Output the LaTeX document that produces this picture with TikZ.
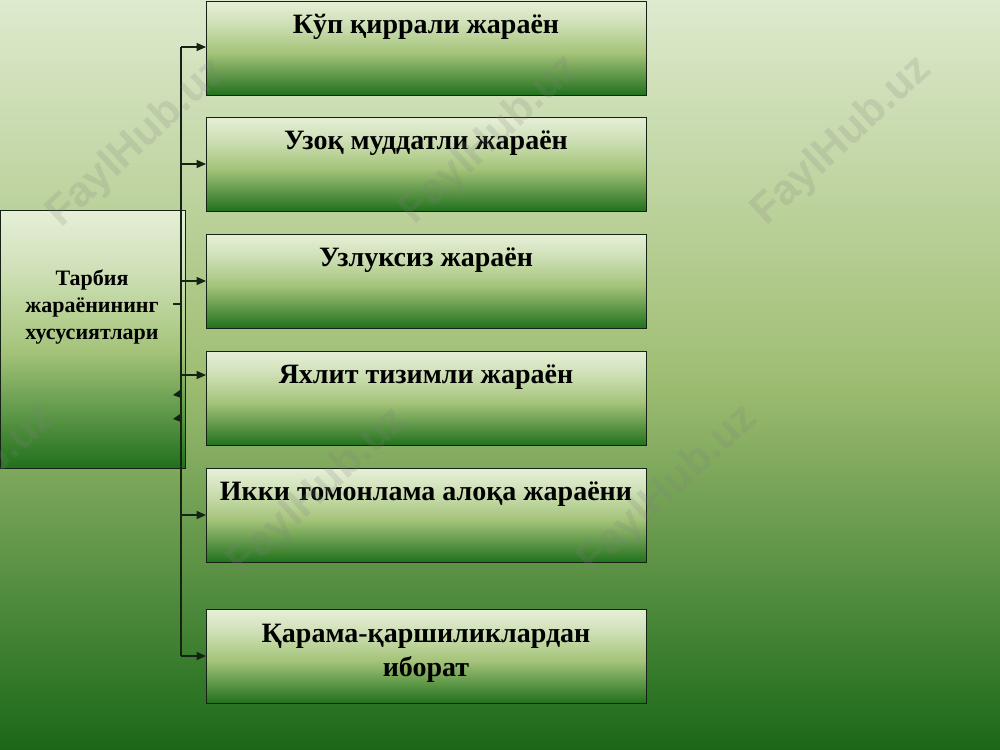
\documentclass[tikz,border=0pt]{standalone}
\usepackage{fontspec}
\setmainfont{Liberation Serif}
\newfontfamily\wmfont{Liberation Sans}
\usetikzlibrary{arrows.meta}
\definecolor{bgtop}{RGB}{222,234,206}
\definecolor{bgmid}{RGB}{160,190,115}
\definecolor{bgbot}{RGB}{26,104,24}
\definecolor{bxtop}{RGB}{230,239,215}
\definecolor{bxhi}{RGB}{208,225,185}
\definecolor{bxmid}{RGB}{165,196,122}
\definecolor{bxbot}{RGB}{32,112,28}
\definecolor{linec}{RGB}{20,35,20}
\definecolor{wmc}{RGB}{128,128,128}
\pgfdeclareverticalshading{bgshade}{100bp}{color(0bp)=(bgbot); color(25bp)=(bgbot); color(50bp)=(bgmid); color(75bp)=(bgtop); color(100bp)=(bgtop)}
\pgfdeclareverticalshading{boxshade}{100bp}{color(0bp)=(bxbot); color(25bp)=(bxbot); color(48bp)=(bxmid); color(64bp)=(bxhi); color(75bp)=(bxtop); color(100bp)=(bxtop)}
\begin{document}
\begin{tikzpicture}[x=0.75pt,y=-0.75pt,
  rbox/.style={draw=linec, line width=0.9pt, shading=boxshade, minimum width=330pt, minimum height=70.5pt, inner sep=0pt, anchor=north west},
  lbox/.style={draw=linec, line width=0.9pt, shading=boxshade, minimum width=138.75pt, minimum height=193.5pt, inner sep=0pt, anchor=north west},
  rtext/.style={font=\bfseries\fontsize{21}{25.5}\selectfont, align=center, inner sep=0pt, text=black},
  ltext/.style={font=\bfseries\fontsize{16.5}{20}\selectfont, align=center, inner sep=0pt, text=black},
  conn/.style={draw=linec, line width=0.9pt},
  arr/.style={conn, -{Triangle[length=7pt,width=6pt]}},
  wm/.style={font=\wmfont\bfseries\fontsize{32}{36}\selectfont, text=wmc, text opacity=0.19, rotate=43, inner sep=0pt}
]
\useasboundingbox (0,0) rectangle (1000,750);
\clip (0,0) rectangle (1000,750);
\shade[shading=bgshade] (0,0) rectangle (1000,750);

% left box
\node[lbox] (L) at (0,210) {};
\node[ltext] (Lt) at (92,307) {Тарбия\\жараёнининг\\хусусиятлари};

% right boxes
\node[rbox] (b1) at (206,1) {};
\node[rbox] (b2) at (206,117) {};
\node[rbox] (b3) at (206,234) {};
\node[rbox] (b4) at (206,351) {};
\node[rbox] (b5) at (206,468) {};
\node[rbox] (b6) at (206,609) {};

\node[rtext, anchor=base] (t1) at (426,33) {Кўп қиррали жараён};
\node[rtext, anchor=base] (t2) at (426,149) {Узоқ муддатли жараён};
\node[rtext, anchor=base] (t3) at (426,266) {Узлуксиз жараён};
\node[rtext, anchor=base] (t4) at (426,383) {Яхлит тизимли жараён};
\node[rtext, anchor=base] (t5) at (426,500) {Икки томонлама алоқа жараёни};
\node[rtext] (t6) at (426,653) {Қарама-қаршиликлардан\\иборат};

% connector spine
\coordinate (j1) at (181,47);
\coordinate (j2) at (181,164);
\coordinate (j3) at (181,281);
\coordinate (j4) at (181,375);
\coordinate (j5) at (181,515);
\coordinate (j6) at (181,656);
\coordinate (tk) at (173,304);
\coordinate (tk2) at (181,304);
\draw[conn] (j1) -- (j6);
\draw[arr] (j1) -- (j1 -| b1.west);
\draw[arr] (j2) -- (j2 -| b2.west);
\draw[arr] (j3) -- (j3 -| b3.west);
\draw[arr] (j4) -- (j4 -| b4.west);
\draw[arr] (j5) -- (j5 -| b5.west);
\draw[arr] (j6) -- (j6 -| b6.west);
\draw[conn] (tk) -- (tk2);
\fill[linec] (173,395) -- (180,390) -- (181,398) -- cycle;
\fill[linec] (173,419) -- (180,414) -- (181,422) -- cycle;

% watermarks
\node[wm] (w1) at (137,143) {FaylHub.uz};
\node[wm] (w2) at (490,140) {FaylHub.uz};
\node[wm] (w3) at (842,141) {FaylHub.uz};
\node[wm] (w4) at (-34,490) {FaylHub.uz};
\node[wm] (w5) at (318,492) {FaylHub.uz};
\node[wm] (w6) at (668,490) {FaylHub.uz};
\end{tikzpicture}
\end{document}
